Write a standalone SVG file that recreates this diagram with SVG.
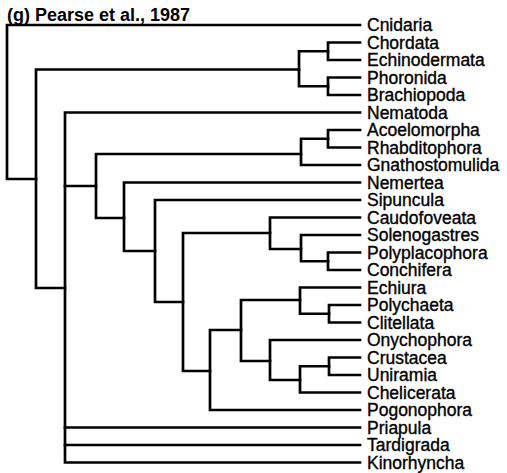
<svg xmlns="http://www.w3.org/2000/svg" width="507" height="473" viewBox="0 0 507 473">
<style>
.e{fill:none;stroke:#000;stroke-width:2.7;stroke-linecap:square;stroke-linejoin:miter}
.t{font-family:"Liberation Sans",Arial,sans-serif;font-size:17.5px;fill:#000;stroke:#000;stroke-width:0.35}
.h{font-family:"Liberation Sans",Arial,sans-serif;font-size:18px;font-weight:bold;fill:#000}
</style>
<rect width="507" height="473" fill="#fff"/>
<text class="h" x="7" y="21">(g) Pearse et al., 1987</text>
<g id="connectors">
<path class="e" d="M360,25 H7 V179 H36"/>
<path class="e" d="M299,69.5 H36 V288 H65"/>
<path class="e" d="M328,51.25 H299 V86.25 H328"/>
<path class="e" d="M360,42.5 H328 V60 H360"/>
<path class="e" d="M360,77.5 H328 V95 H360"/>
<path class="e" d="M360,112.5 H65 V462.5 H360"/>
<path class="e" d="M96,186 H65"/>
<path class="e" d="M360,427.5 H65"/>
<path class="e" d="M360,445 H65"/>
<path class="e" d="M301,154 H96 V218 H124"/>
<path class="e" d="M328,138.75 H301 V165 H360"/>
<path class="e" d="M360,130 H328 V147.5 H360"/>
<path class="e" d="M360,182.5 H124 V251 H155"/>
<path class="e" d="M360,200 H155 V302 H183"/>
<path class="e" d="M270,233 H183 V371 H210"/>
<path class="e" d="M360,217.5 H270 V249 H301"/>
<path class="e" d="M360,235 H301 V261.25 H328"/>
<path class="e" d="M360,252.5 H328 V270 H360"/>
<path class="e" d="M241,330 H210 V410 H360"/>
<path class="e" d="M300,300 H241 V361 H270"/>
<path class="e" d="M360,287.5 H300 V313.75 H329"/>
<path class="e" d="M360,305 H329 V322.5 H360"/>
<path class="e" d="M360,340 H270 V380 H300"/>
<path class="e" d="M329,366.25 H300 V392.5 H360"/>
<path class="e" d="M360,357.5 H329 V375 H360"/>
</g>
<g id="Cnidaria"><text class="t" x="367" y="31">Cnidaria</text></g>
<g id="Chordata"><text class="t" x="367" y="48.5">Chordata</text></g>
<g id="Echinodermata"><text class="t" x="367" y="66">Echinodermata</text></g>
<g id="Phoronida"><text class="t" x="367" y="83.5">Phoronida</text></g>
<g id="Brachiopoda"><text class="t" x="367" y="101">Brachiopoda</text></g>
<g id="Nematoda"><text class="t" x="367" y="118.5">Nematoda</text></g>
<g id="Acoelomorpha"><text class="t" x="367" y="136">Acoelomorpha</text></g>
<g id="Rhabditophora"><text class="t" x="367" y="153.5">Rhabditophora</text></g>
<g id="Gnathostomulida"><text class="t" x="367" y="171">Gnathostomulida</text></g>
<g id="Nemertea"><text class="t" x="367" y="188.5">Nemertea</text></g>
<g id="Sipuncula"><text class="t" x="367" y="206">Sipuncula</text></g>
<g id="Caudofoveata"><text class="t" x="367" y="223.5">Caudofoveata</text></g>
<g id="Solenogastres"><text class="t" x="367" y="241">Solenogastres</text></g>
<g id="Polyplacophora"><text class="t" x="367" y="258.5">Polyplacophora</text></g>
<g id="Conchifera"><text class="t" x="367" y="276">Conchifera</text></g>
<g id="Echiura"><text class="t" x="367" y="293.5">Echiura</text></g>
<g id="Polychaeta"><text class="t" x="367" y="311">Polychaeta</text></g>
<g id="Clitellata"><text class="t" x="367" y="328.5">Clitellata</text></g>
<g id="Onychophora"><text class="t" x="367" y="346">Onychophora</text></g>
<g id="Crustacea"><text class="t" x="367" y="363.5">Crustacea</text></g>
<g id="Uniramia"><text class="t" x="367" y="381">Uniramia</text></g>
<g id="Chelicerata"><text class="t" x="367" y="398.5">Chelicerata</text></g>
<g id="Pogonophora"><text class="t" x="367" y="416">Pogonophora</text></g>
<g id="Priapula"><text class="t" x="367" y="433.5">Priapula</text></g>
<g id="Tardigrada"><text class="t" x="367" y="451">Tardigrada</text></g>
<g id="Kinorhyncha"><text class="t" x="367" y="468.5">Kinorhyncha</text></g>
</svg>
